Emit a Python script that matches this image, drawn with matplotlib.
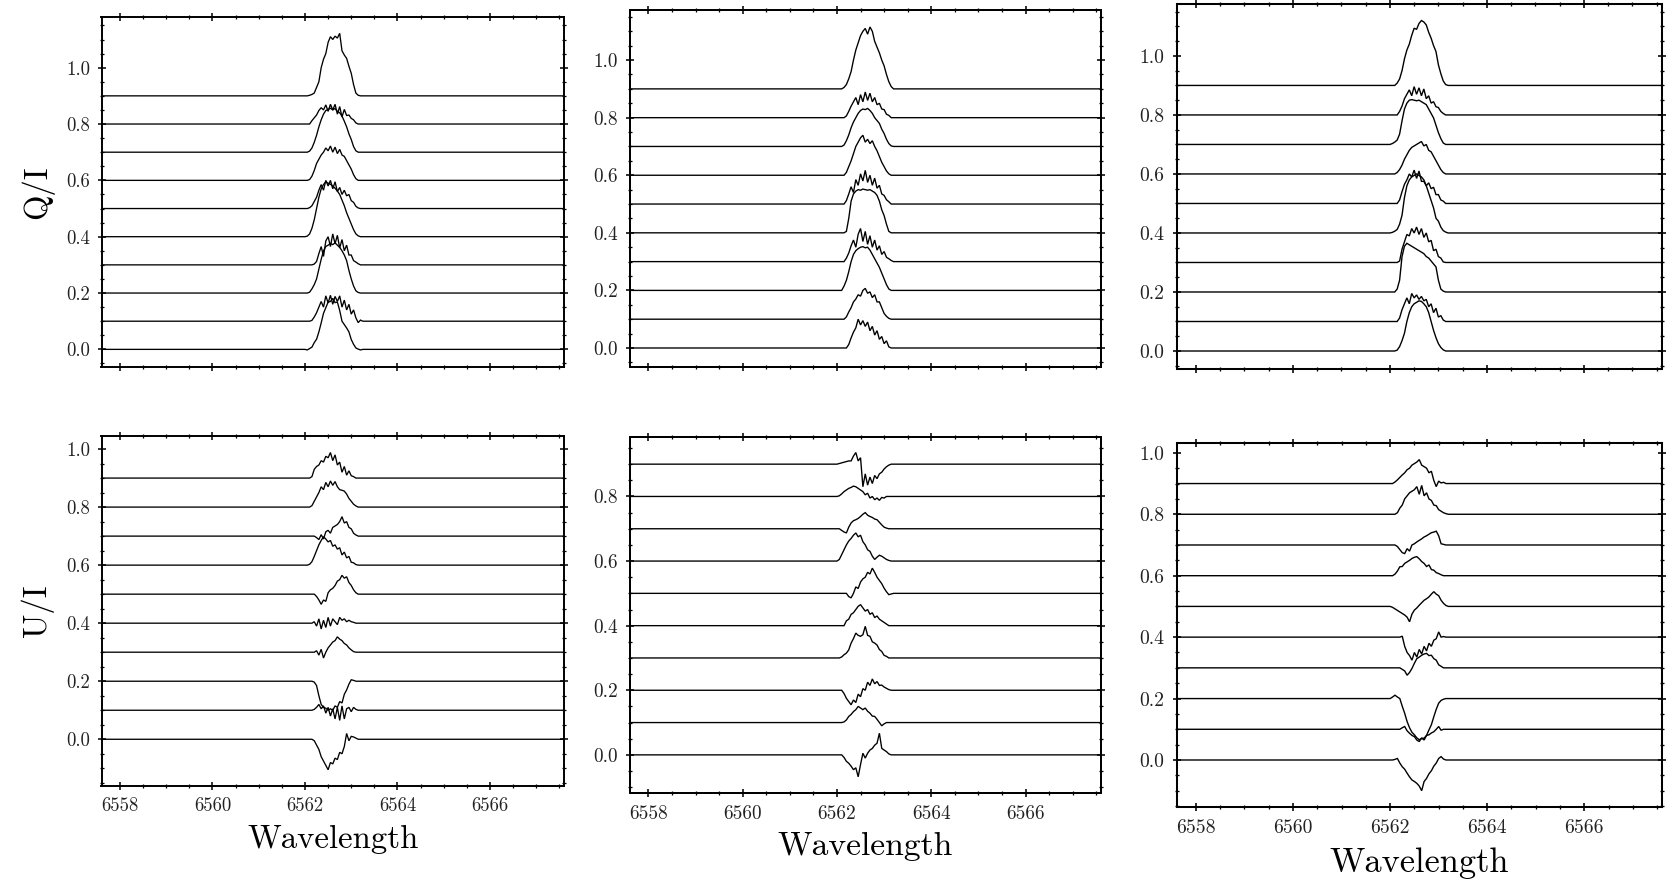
import matplotlib
matplotlib.use("Agg")
import matplotlib.pyplot as plt
from matplotlib.ticker import MultipleLocator, FormatStrFormatter

plt.rcParams["font.family"] = "serif"
plt.rcParams["font.serif"] = ["cmr10", "DejaVu Serif"]
plt.rcParams["mathtext.fontset"] = "cm"
plt.rcParams["axes.formatter.use_mathtext"] = True

# Wavelength coverage of every spectrum (Angstrom)
wave_range = [6557.6, 6567.6]

# Sampling across the H-alpha core, where the polarised signal sits
line_wave = [6562.00, 6562.05, 6562.10, 6562.15, 6562.20, 6562.25, 6562.30,
             6562.35, 6562.40, 6562.45, 6562.50, 6562.55, 6562.60, 6562.65,
             6562.70, 6562.75, 6562.80, 6562.85, 6562.90, 6562.95, 6563.00,
             6563.05, 6563.10, 6563.15, 6563.20, 6563.25, 6563.30]

# Q/I profiles, one list per epoch (bottom to top)
q_left = [
    [0.0, -0.002, 0.003, 0.008, 0.024, 0.036, 0.062, 0.094, 0.128, 0.148, 0.168, 0.17, 0.181, 0.166, 0.168, 0.138, 0.1, 0.088, 0.076, 0.062, 0.035, 0.018, 0.005, 0.001, -0.002, 0.0, 0.0],
    [0, 0, 0, 0.003, 0.015, 0.03, 0.05, 0.07, 0.05, 0.09, 0.065, 0.092, 0.06, 0.088, 0.07, 0.09, 0.05, 0.075, 0.04, 0.06, 0.025, 0.04, 0.012, -0.005, 0.004, 0, 0],
    [0, 0, 0.003, 0.015, 0.03, 0.05, 0.085, 0.12, 0.15, 0.165, 0.17, 0.176, 0.172, 0.178, 0.17, 0.162, 0.15, 0.135, 0.115, 0.08, 0.05, 0.025, 0.008, 0.002, 0, 0, 0],
    [0, 0, 0, 0, 0.003, 0.012, 0.04, 0.065, 0.03, 0.085, 0.1, 0.065, 0.11, 0.075, 0.105, 0.06, 0.09, 0.05, 0.07, 0.035, 0.035, 0.015, 0.01, 0.004, 0, 0, 0],
    [0, 0.002, 0.01, 0.03, 0.06, 0.1, 0.14, 0.17, 0.185, 0.195, 0.19, 0.186, 0.18, 0.172, 0.162, 0.15, 0.13, 0.11, 0.085, 0.065, 0.045, 0.025, 0.01, 0.003, 0, 0, 0],
    [0, 0, 0.003, 0.01, 0.025, 0.04, 0.065, 0.085, 0.065, 0.1, 0.08, 0.1, 0.07, 0.095, 0.06, 0.075, 0.05, 0.065, 0.045, 0.05, 0.028, 0.022, 0.008, 0.002, 0, 0, 0],
    [0, 0, 0.003, 0.015, 0.035, 0.06, 0.075, 0.09, 0.1, 0.115, 0.105, 0.122, 0.1, 0.118, 0.095, 0.11, 0.09, 0.085, 0.07, 0.055, 0.04, 0.02, 0.006, 0, 0, 0, 0],
    [0, 0, 0.004, 0.015, 0.035, 0.06, 0.09, 0.115, 0.135, 0.148, 0.152, 0.156, 0.15, 0.155, 0.145, 0.14, 0.128, 0.11, 0.09, 0.065, 0.045, 0.02, 0.005, 0, 0, 0, 0],
    [0, 0, 0, 0.012, 0.022, 0.032, 0.048, 0.058, 0.05, 0.068, 0.045, 0.07, 0.05, 0.07, 0.035, 0.062, 0.025, 0.052, 0.03, 0.032, 0.02, 0.015, 0.004, 0, 0, 0, 0],
    [0, 0, 0.002, 0.005, 0.01, 0.03, 0.05, 0.1, 0.13, 0.15, 0.19, 0.21, 0.2, 0.212, 0.205, 0.222, 0.16, 0.145, 0.133, 0.105, 0.08, 0.04, 0.01, 0.002, 0, 0, 0],
]
q_mid = [
    [0, 0, 0, 0, 0, 0.012, 0.035, 0.055, 0.07, 0.1, 0.08, 0.095, 0.075, 0.09, 0.06, 0.075, 0.045, 0.06, 0.03, 0.04, 0.015, 0.025, 0.004, 0, 0, 0, 0],
    [0, 0, 0, 0, 0.008, 0.025, 0.04, 0.06, 0.07, 0.085, 0.08, 0.1, 0.107, 0.09, 0.095, 0.075, 0.085, 0.06, 0.06, 0.04, 0.02, 0.01, 0.003, 0, 0, 0, 0],
    [0, 0, 0, 0.015, 0.035, 0.065, 0.1, 0.125, 0.138, 0.145, 0.15, 0.152, 0.148, 0.15, 0.14, 0.125, 0.11, 0.095, 0.08, 0.06, 0.04, 0.02, 0.005, 0, 0, 0, 0],
    [0, 0, 0, 0, 0.012, 0.03, 0.055, 0.075, 0.05, 0.095, 0.115, 0.07, 0.105, 0.06, 0.09, 0.05, 0.075, 0.04, 0.055, 0.025, 0.035, 0.015, 0.01, 0.004, 0, 0, 0],
    [0, 0, 0, 0, 0.005, 0.05, 0.11, 0.135, 0.145, 0.15, 0.148, 0.152, 0.15, 0.148, 0.15, 0.145, 0.14, 0.13, 0.11, 0.08, 0.06, 0.03, 0.005, 0, 0, 0, 0],
    [0, 0, 0, 0, 0.012, 0.035, 0.06, 0.04, 0.085, 0.065, 0.105, 0.08, 0.117, 0.075, 0.1, 0.065, 0.09, 0.055, 0.065, 0.035, 0.03, 0.015, 0.008, 0, 0, 0, 0],
    [0, 0, 0, 0, 0.01, 0.03, 0.05, 0.075, 0.1, 0.115, 0.13, 0.139, 0.115, 0.125, 0.11, 0.12, 0.1, 0.085, 0.065, 0.045, 0.03, 0.015, 0.005, 0, 0, 0, 0],
    [0, 0, 0, 0.005, 0.02, 0.04, 0.065, 0.085, 0.1, 0.115, 0.125, 0.13, 0.128, 0.132, 0.125, 0.115, 0.1, 0.09, 0.08, 0.06, 0.045, 0.025, 0.01, 0.002, 0, 0, 0],
    [0, 0, 0, 0, 0.006, 0.022, 0.04, 0.055, 0.07, 0.045, 0.08, 0.055, 0.089, 0.06, 0.085, 0.055, 0.07, 0.045, 0.05, 0.03, 0.028, 0.012, 0.008, 0, 0, 0, 0],
    [0, 0, 0, 0.005, 0.015, 0.035, 0.06, 0.1, 0.135, 0.16, 0.185, 0.2, 0.21, 0.19, 0.215, 0.2, 0.165, 0.145, 0.125, 0.1, 0.08, 0.05, 0.025, 0.008, 0, 0, 0],
]
q_right = [
    [0, 0, 0, 0.003, 0.015, 0.035, 0.06, 0.1, 0.13, 0.15, 0.16, 0.165, 0.17, 0.168, 0.16, 0.15, 0.13, 0.1, 0.07, 0.045, 0.025, 0.012, 0.004, 0, 0, 0, 0],
    [0, 0, 0, 0, 0.012, 0.04, 0.06, 0.08, 0.06, 0.095, 0.08, 0.09, 0.075, 0.085, 0.07, 0.075, 0.05, 0.06, 0.03, 0.045, 0.015, 0.02, 0.005, 0, 0, 0, 0],
    [0, 0, 0, 0.01, 0.04, 0.12, 0.155, 0.165, 0.16, 0.155, 0.15, 0.145, 0.14, 0.135, 0.13, 0.12, 0.115, 0.105, 0.095, 0.085, 0.04, 0.01, 0.003, 0, 0, 0, 0],
    [0, 0, 0, 0, 0.005, 0.045, 0.07, 0.095, 0.09, 0.115, 0.1, 0.12, 0.095, 0.115, 0.085, 0.1, 0.07, 0.075, 0.04, 0.045, 0.02, 0.015, 0.002, 0, 0, 0, 0],
    [0, 0.002, 0.006, 0.012, 0.03, 0.06, 0.12, 0.16, 0.18, 0.19, 0.195, 0.2, 0.195, 0.19, 0.18, 0.16, 0.135, 0.11, 0.085, 0.05, 0.04, 0.02, 0.008, 0.003, 0, 0, 0],
    [0, 0, 0, 0, 0.012, 0.04, 0.065, 0.08, 0.1, 0.09, 0.113, 0.085, 0.11, 0.075, 0.075, 0.06, 0.07, 0.05, 0.055, 0.03, 0.03, 0.012, 0.008, 0, 0, 0, 0],
    [0, 0, 0, 0.005, 0.015, 0.03, 0.05, 0.065, 0.08, 0.09, 0.095, 0.1, 0.105, 0.11, 0.095, 0.1, 0.08, 0.075, 0.06, 0.045, 0.03, 0.015, 0.005, 0, 0, 0, 0],
    [0, 0.003, 0.008, 0.015, 0.035, 0.08, 0.12, 0.14, 0.15, 0.152, 0.15, 0.148, 0.15, 0.145, 0.14, 0.135, 0.12, 0.105, 0.09, 0.065, 0.04, 0.02, 0.005, 0, 0, 0, 0],
    [0, 0, 0, 0, 0.012, 0.03, 0.055, 0.07, 0.085, 0.065, 0.096, 0.07, 0.092, 0.065, 0.088, 0.055, 0.065, 0.04, 0.045, 0.028, 0.025, 0.012, 0.005, 0, 0, 0, 0],
    [0, 0, 0, 0.008, 0.022, 0.05, 0.09, 0.12, 0.14, 0.17, 0.194, 0.19, 0.21, 0.22, 0.215, 0.205, 0.18, 0.16, 0.135, 0.115, 0.07, 0.04, 0.015, 0.003, 0, 0, 0],
]

# U/I profiles, one list per epoch (bottom to top)
u_left = [
    [0, 0, 0, 0, -0.005, -0.02, -0.035, -0.06, -0.075, -0.09, -0.105, -0.08, -0.085, -0.065, -0.07, -0.045, -0.05, -0.025, 0.02, -0.005, 0.01, 0.008, 0.004, 0, 0, 0, 0],
    [0, 0, 0, 0, 0.003, 0.01, 0.02, 0.005, 0.015, -0.01, 0.01, -0.02, 0.005, -0.03, 0.01, -0.035, 0.015, -0.03, 0.005, 0.01, -0.005, 0.01, 0.003, 0, 0, 0, 0],
    [0, 0, 0, 0, -0.003, -0.015, -0.05, -0.08, -0.09, -0.093, -0.1, -0.095, -0.1, -0.085, -0.09, -0.07, -0.075, -0.045, -0.03, -0.01, 0.005, 0.003, 0, 0, 0, 0, 0],
    [0, 0, 0, 0, 0, 0.005, -0.01, 0.01, -0.02, 0.0, 0.015, 0.025, 0.035, 0.04, 0.053, 0.045, 0.04, 0.03, 0.025, 0.015, 0.008, 0.002, 0, 0, 0, 0, 0],
    [0, 0, 0, 0, 0.005, -0.01, 0.015, -0.02, 0.01, -0.015, 0.02, -0.01, 0.015, 0.005, -0.005, 0.02, 0.01, 0.015, 0.005, 0.01, 0.005, 0.003, 0, 0, 0, 0, 0],
    [0, 0, 0, 0, 0, -0.008, -0.02, -0.035, -0.02, -0.025, 0.005, 0.015, 0.02, 0.03, 0.045, 0.05, 0.065, 0.055, 0.06, 0.04, 0.03, 0.015, 0.005, 0, 0, 0, 0],
    [0, 0, 0.003, 0.012, 0.03, 0.05, 0.07, 0.085, 0.098, 0.09, 0.08, 0.085, 0.065, 0.07, 0.055, 0.06, 0.035, 0.045, 0.025, 0.03, 0.01, 0.008, 0.002, 0, 0, 0, 0],
    [0, 0, 0, 0, 0, -0.005, -0.012, 0.005, -0.01, 0.015, 0.02, 0.01, 0.03, 0.035, 0.04, 0.05, 0.067, 0.045, 0.05, 0.03, 0.025, 0.01, 0.004, 0, 0, 0, 0],
    [0, 0, 0, 0.005, 0.02, 0.035, 0.05, 0.07, 0.06, 0.085, 0.07, 0.09, 0.075, 0.088, 0.07, 0.06, 0.058, 0.055, 0.045, 0.03, 0.02, 0.01, 0.004, 0, 0, 0, 0],
    [0, 0, 0, 0.005, 0.03, 0.04, 0.045, 0.06, 0.055, 0.075, 0.07, 0.088, 0.06, 0.08, 0.045, 0.055, 0.02, 0.04, 0.01, 0.025, 0.008, 0.005, 0, 0, 0, 0, 0],
]
u_mid = [
    [0, 0, 0, -0.008, -0.02, -0.026, -0.035, -0.046, -0.04, -0.068, -0.03, 0.005, -0.01, 0.005, 0.015, 0.02, 0.03, 0.036, 0.067, 0.02, 0.015, 0.01, 0.003, 0, 0, 0, 0],
    [0, 0, 0, 0.002, 0.008, 0.019, 0.025, 0.034, 0.04, 0.05, 0.045, 0.04, 0.045, 0.035, 0.029, 0.02, 0.019, 0.01, 0.0, -0.01, -0.004, 0, 0, 0, 0, 0, 0],
    [0, 0, 0, -0.01, -0.025, -0.035, -0.045, -0.03, -0.038, -0.012, -0.02, 0.005, 0.0, 0.025, 0.015, 0.035, 0.02, 0.027, 0.015, 0.016, 0.01, 0.006, 0.002, 0, 0, 0, 0],
    [0, 0, 0.003, 0.01, 0.015, 0.025, 0.046, 0.06, 0.077, 0.07, 0.067, 0.072, 0.098, 0.07, 0.067, 0.05, 0.046, 0.04, 0.026, 0.02, 0.008, 0.005, 0, 0, 0, 0, 0],
    [0, 0, 0, 0, 0.015, 0.02, 0.035, 0.04, 0.05, 0.06, 0.065, 0.055, 0.045, 0.05, 0.035, 0.04, 0.025, 0.03, 0.02, 0.015, 0.01, 0.005, 0, 0, 0, 0, 0],
    [0, 0, 0, 0, 0, -0.01, -0.014, 0.0, 0.02, 0.015, 0.035, 0.045, 0.05, 0.065, 0.06, 0.078, 0.065, 0.05, 0.04, 0.03, 0.016, 0.005, -0.004, -0.002, 0, 0, 0],
    [0, 0.005, 0.02, 0.035, 0.05, 0.062, 0.07, 0.08, 0.087, 0.075, 0.08, 0.06, 0.05, 0.035, 0.03, 0.015, 0.005, 0.012, 0.018, 0.015, 0.01, 0.005, 0.002, 0, 0, 0, 0],
    [0, 0, -0.005, -0.01, -0.013, 0.005, 0.018, 0.025, 0.028, 0.032, 0.038, 0.045, 0.05, 0.042, 0.038, 0.035, 0.03, 0.028, 0.02, 0.012, 0.005, 0.002, 0, 0, 0, 0, 0],
    [0, 0.002, 0.008, 0.015, 0.02, 0.025, 0.028, 0.032, 0.03, 0.025, 0.02, 0.015, 0.005, 0.01, -0.005, 0.0, -0.01, -0.005, -0.012, -0.003, -0.005, 0, 0, 0, 0, 0, 0],
    [0, 0.002, 0.004, 0.006, 0.008, 0.01, 0.01, 0.025, 0.036, 0.01, 0.02, -0.07, -0.03, -0.065, -0.04, -0.06, -0.035, -0.045, -0.03, -0.025, -0.015, -0.008, -0.003, 0, 0, 0, 0],
]
u_right = [
    [0, 0, 0.002, 0.005, -0.01, -0.022, -0.03, -0.043, -0.055, -0.065, -0.07, -0.076, -0.085, -0.1, -0.07, -0.06, -0.045, -0.035, -0.02, -0.01, 0.005, 0.011, 0.003, 0, 0, 0, 0],
    [0, 0, 0, 0, 0, 0.005, 0.009, -0.005, -0.013, -0.02, -0.024, -0.035, -0.04, -0.028, -0.035, -0.02, -0.018, -0.012, -0.008, 0.0, 0.009, -0.003, 0.0, 0, 0, 0, 0],
    [0, 0.005, 0.011, 0.005, 0.0, -0.025, -0.048, -0.075, -0.095, -0.11, -0.118, -0.128, -0.134, -0.13, -0.129, -0.12, -0.102, -0.085, -0.059, -0.035, -0.015, -0.006, -0.002, 0, 0, 0, 0],
    [0, 0, 0, 0, 0, -0.005, -0.01, -0.024, -0.015, -0.002, 0.015, 0.03, 0.035, 0.041, 0.045, 0.047, 0.04, 0.041, 0.03, 0.025, 0.01, 0.005, 0, 0, 0, 0, 0],
    [0, 0, 0, 0, 0, 0.003, -0.03, -0.05, -0.06, -0.075, -0.05, -0.065, -0.04, -0.055, -0.03, -0.045, -0.02, -0.03, -0.01, -0.005, 0.017, 0.0, 0.002, 0, 0, 0, 0],
    [0, -0.003, -0.008, -0.013, -0.018, -0.023, -0.028, -0.035, -0.05, -0.025, -0.012, -0.005, 0.004, 0.012, 0.02, 0.025, 0.031, 0.04, 0.048, 0.04, 0.035, 0.02, 0.01, 0.003, 0, 0, 0],
    [0, 0, 0.005, 0.015, 0.029, 0.03, 0.04, 0.045, 0.05, 0.056, 0.06, 0.062, 0.055, 0.046, 0.04, 0.03, 0.035, 0.02, 0.018, 0.01, 0.007, 0.003, 0, 0, 0, 0, 0],
    [0, 0, 0, -0.005, -0.015, -0.025, -0.028, -0.012, -0.02, 0.0, 0.004, 0.01, 0.015, 0.02, 0.026, 0.03, 0.035, 0.04, 0.042, 0.045, 0.03, 0.004, 0.002, 0, 0, 0, 0],
    [0, 0, 0, 0.005, 0.02, 0.03, 0.05, 0.06, 0.07, 0.075, 0.08, 0.09, 0.065, 0.094, 0.06, 0.07, 0.05, 0.045, 0.03, 0.028, 0.015, 0.01, 0.005, 0.002, 0, 0, 0],
    [0, 0, 0.005, 0.012, 0.02, 0.028, 0.035, 0.045, 0.05, 0.06, 0.065, 0.07, 0.078, 0.06, 0.055, 0.05, 0.035, 0.04, 0.01, -0.01, 0.008, 0.002, 0.004, 0, 0, 0, 0],
]

panels = [[q_left, q_mid, q_right], [u_left, u_mid, u_right]]
row_labels = ["Q/I", "U/I"]
offset_step = 0.1

# Figure layout in pixels: (left, top, right, bottom) of each axes box
W, H = 1675, 880
boxes = [
    [(101.5, 16.7, 564.0, 366.7), (629.5, 10.0, 1101.0, 366.7), (1176.5, 4.0, 1661.5, 369.3)],
    [(101.5, 435.7, 564.0, 785.7), (629.5, 436.7, 1101.0, 793.3), (1176.5, 442.7, 1662.0, 807.3)],
]
ylims = [
    [(-0.0615, 1.181), (-0.065, 1.174), (-0.062, 1.176)],
    [(-0.16, 1.046), (-0.119, 0.985), (-0.154, 1.033)],
]
col_scale = [1.0, 1.025, 1.05]
xlabel_centre_y = [839.0, 846.0, 863.0]
ylabel_centre_x = 37.5

fig = plt.figure(figsize=(W / 100, H / 100), dpi=100)

for r in range(2):
    for c in range(3):
        s = col_scale[c]
        l, t, rr, b = boxes[r][c]
        ax = fig.add_axes([l / W, 1 - b / H, (rr - l) / W, (b - t) / H])
        x = [wave_range[0]] + line_wave + [wave_range[1]]
        for i, prof in enumerate(panels[r][c]):
            y = [offset_step * i + v for v in [0.0] + prof + [0.0]]
            ax.plot(x, y, color="black", lw=0.95 * s, solid_joinstyle="miter")
        ax.set_xlim(*wave_range)
        ax.set_ylim(*ylims[r][c])

        ax.xaxis.set_major_locator(MultipleLocator(2))
        ax.xaxis.set_minor_locator(MultipleLocator(0.5))
        ax.yaxis.set_major_locator(MultipleLocator(0.2))
        ax.yaxis.set_minor_locator(MultipleLocator(0.05))
        ax.yaxis.set_major_formatter(FormatStrFormatter("%.1f"))
        ax.xaxis.set_major_formatter(FormatStrFormatter("%d"))

        for sp in ax.spines.values():
            sp.set_linewidth(1.4 * s)
        ax.tick_params(which="both", direction="inout", top=True, right=True,
                       colors="black", labelcolor="#222222")
        ax.tick_params(which="major", length=5.5 * s, width=1.1 * s,
                       labelsize=13.5 * s, pad=5.5 * s)
        ax.tick_params(which="minor", length=3.0 * s, width=0.9 * s)

        if r == 0:
            ax.tick_params(labelbottom=False)
        else:
            ax.set_xlabel("Wavelength", fontsize=23.6 * s)
            ax.xaxis.label.set_va("center")
            ax.xaxis.set_label_coords(0.5, (b - xlabel_centre_y[c]) / (b - t))
        if c == 0:
            ax.set_ylabel(row_labels[r], fontsize=23.5)
            ax.yaxis.label.set_va("center")
            ax.yaxis.set_label_coords((ylabel_centre_x - l) / (rr - l), 0.5)

fig.savefig("out.png", dpi=100)
